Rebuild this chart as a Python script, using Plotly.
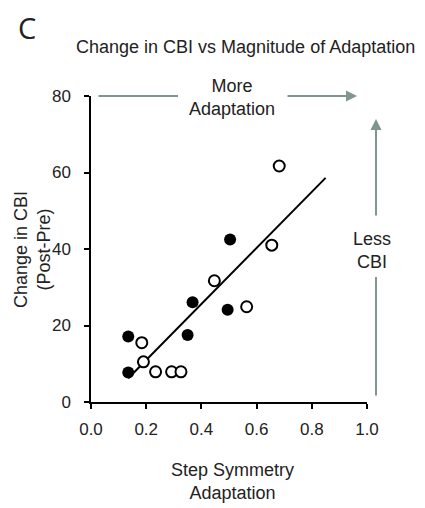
import plotly.graph_objects as go

# Data
filled_x = [0.135, 0.135, 0.350, 0.368, 0.495, 0.504]
filled_y = [7.7, 17.1, 17.5, 26.1, 24.1, 42.5]
open_x = [0.184, 0.190, 0.234, 0.292, 0.326, 0.447, 0.564, 0.655, 0.682]
open_y = [15.5, 10.5, 7.9, 7.9, 7.9, 31.7, 24.9, 41.0, 61.7]
trend_x = [0.135, 0.85]
trend_y = [6.2, 58.6]
x_ticks = [0.0, 0.2, 0.4, 0.6, 0.8, 1.0]
y_ticks = [0, 20, 40, 60, 80]

FONT = "Arial, Liberation Sans, sans-serif"
ARROW = "#7f9590"
TXT = "#222"

# plot area in pixels
L, R, T, B = 91, 367, 96, 402
W, H = 425, 508


def px(x):
    return (x - L) / (R - L)


def py(y):
    return (B - y) / (B - T)


fig = go.Figure()
fig.add_trace(go.Scatter(x=trend_x, y=trend_y, mode="lines",
                         line=dict(color="black", width=2), hoverinfo="skip", showlegend=False))
fig.add_trace(go.Scatter(x=open_x, y=open_y, mode="markers",
                         marker=dict(size=11, color="white", line=dict(color="black", width=2)),
                         showlegend=False))
fig.add_trace(go.Scatter(x=filled_x, y=filled_y, mode="markers",
                         marker=dict(size=12, color="black", line=dict(color="black", width=0)),
                         showlegend=False))

fig.update_layout(
    width=W, height=H,
    margin=dict(l=L, r=W - R, t=T, b=H - B),
    paper_bgcolor="white", plot_bgcolor="white",
    font=dict(family=FONT, size=18, color=TXT),
    xaxis=dict(range=[0, 1.0], tickvals=x_ticks, ticktext=[f"{v:.1f}" for v in x_ticks],
               showgrid=False, zeroline=False, showline=True, linecolor="black", linewidth=1.5,
               ticks="outside", ticklen=5, tickcolor="black", tickwidth=1.5,
               tickfont=dict(size=17, family=FONT, color=TXT), ticklabelstandoff=6),
    yaxis=dict(range=[0, 80], tickvals=y_ticks,
               showgrid=False, zeroline=False, showline=True, linecolor="black", linewidth=1.5,
               ticks="outside", ticklen=5, tickcolor="black", tickwidth=1.5,
               tickfont=dict(size=17, family=FONT, color=TXT), ticklabelstandoff=10),
)

ann = []


def text(t, x, y, size=18, family=FONT, angle=0):
    ann.append(dict(text=t, x=px(x), y=py(y), xref="paper", yref="paper", showarrow=False,
                    textangle=angle, font=dict(size=size, family=family, color=TXT),
                    xanchor="center", yanchor="middle"))


def seg(x0, y0, x1, y1, head):
    # tail (x0,y0) -> head (x1,y1), pixel coordinates
    ann.append(dict(x=px(x1), y=py(y1), xref="paper", yref="paper",
                    ax=x0 - x1, ay=y0 - y1, axref="pixel", ayref="pixel",
                    showarrow=True, arrowhead=2 if head else 0, arrowsize=1.1,
                    arrowwidth=2, arrowcolor=ARROW, text="", standoff=0, startstandoff=0))


text("C", 27, 28, size=29, family="Open Sans, Noto Sans, sans-serif")
text("Change in CBI vs Magnitude of Adaptation", 245, 47)
text("Step Symmetry<br>Adaptation", 232, 481)
text("Change in CBI<br>(Post-Pre)", 32, 250, angle=-90)
text("More<br>Adaptation", 232, 97)
text("Less<br>CBI", 372, 250)

# horizontal arrow
seg(97, 96, 178, 96, False)
seg(286, 96, 357, 96, True)
# vertical arrow
seg(376, 397, 376, 277, False)
seg(376, 217, 376, 119, True)

fig.update_layout(annotations=ann)
fig.write_html("out.html")
